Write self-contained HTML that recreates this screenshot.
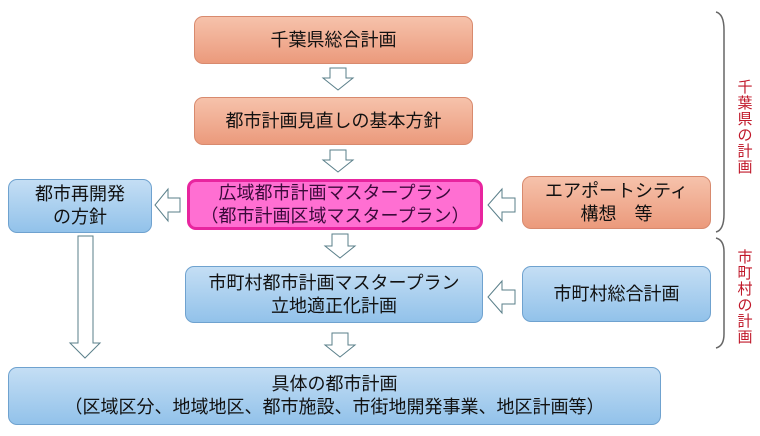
<!DOCTYPE html>
<html><head><meta charset="utf-8"><style>
body{margin:0;width:760px;height:436px;background:#fff;position:relative;overflow:hidden;font-family:"Liberation Sans","Noto Sans CJK JP",sans-serif;}
.b{position:absolute;box-sizing:border-box;border-radius:9px;display:flex;align-items:center;justify-content:center;text-align:center;font-size:18px;line-height:23px;color:#111;}
.o{background:linear-gradient(#f6c2ab,#eb9a7c);border:1px solid #d88a6e;}
.u{background:linear-gradient(#c4def4,#92c2ea);border:1px solid #6fa2cf;}
.m{background:#ff6fd2;border:3px solid #e8259f;color:#3a0a3a;}
.r{position:absolute;color:#c0182a;font-size:15px;line-height:16px;width:16px;text-align:center;}
svg{position:absolute;left:0;top:0;}
</style></head><body>
<svg width="760" height="436">
<g fill="#fff" stroke="#5a7f8a" stroke-width="1">
<polygon points="330,68 346,68 346,78 353,78 338,90 323,78 330,78"/>
<polygon points="330,150 346,150 346,160 353,160 338,172 323,160 330,160"/>
<polygon points="332,234 348,234 348,246 355,246 340,258 325,246 332,246"/>
<polygon points="332,333 348,333 348,345 355,345 340,357 325,345 332,345"/>
<polygon points="78,236 93,236 93,343 100,343 85,358 70,343 78,343"/>
<polygon points="180,198 180,212 168,212 168,221 155,205 168,189 168,198"/>
<polygon points="515,198 515,212 502,212 502,221 488,205 502,189 502,198"/>
<polygon points="515,290 515,304 502,304 502,313 488,297 502,281 502,290"/>
</g>
<g fill="none" stroke="#666" stroke-width="1.5">
<path d="M716,12 Q724,14 724,30 L724,214 Q724,230 716,232"/>
<path d="M716,238 Q724,240 724,252 L724,334 Q724,346 716,348"/>
</g>
</svg>
<div class="b o" style="left:194px;top:16px;width:279px;height:48px">千葉県総合計画</div>
<div class="b o" style="left:194px;top:97px;width:279px;height:48px">都市計画見直しの基本方針</div>
<div class="b m" style="left:187px;top:179px;width:296px;height:51px">広域都市計画マスタープラン<br>（都市計画区域マスタープラン）</div>
<div class="b u" style="left:8px;top:179px;width:144px;height:54px">都市再開発<br>の方針</div>
<div class="b o" style="left:522px;top:176px;width:189px;height:53px">エアポートシティ<br>構想　等</div>
<div class="b u" style="left:185px;top:266px;width:298px;height:57px">市町村都市計画マスタープラン<br>立地適正化計画</div>
<div class="b u" style="left:522px;top:266px;width:189px;height:56px">市町村総合計画</div>
<div class="b u" style="left:8px;top:367px;width:653px;height:58px">具体の都市計画<br>（区域区分、地域地区、都市施設、市街地開発事業、地区計画等）</div>
<div class="r" style="left:737px;top:80px">千<br>葉<br>県<br>の<br>計<br>画</div>
<div class="r" style="left:737px;top:250px">市<br>町<br>村<br>の<br>計<br>画</div>
</body></html>
